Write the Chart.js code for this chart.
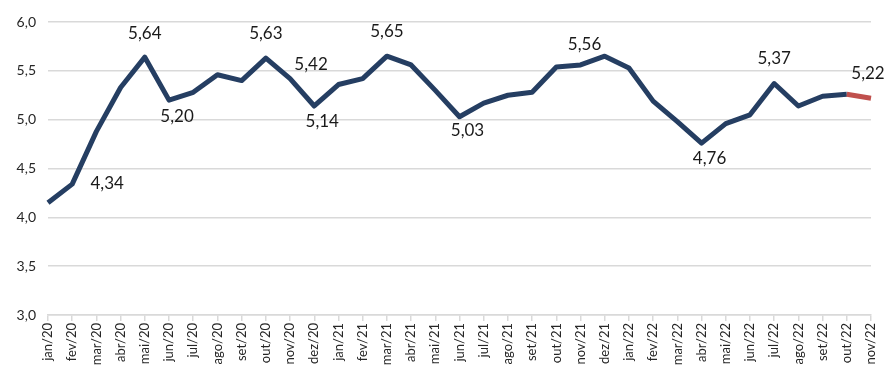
<!DOCTYPE html>
<html>
<head>
<meta charset="utf-8">
<script src="https://cdn.jsdelivr.net/npm/chart.js@4/dist/chart.umd.min.js"></script>
<style>
  html, body { margin: 0; padding: 0; background: #fff; }
  #wrap { width: 893px; height: 387px; position: relative; }
</style>
</head>
<body>
<div id="wrap"><canvas id="chartTaxa"></canvas></div>
<script>
const months = [
  "jan/20", "fev/20", "mar/20", "abr/20", "mai/20", "jun/20", "jul/20", "ago/20", "set/20", "out/20", "nov/20", "dez/20",
  "jan/21", "fev/21", "mar/21", "abr/21", "mai/21", "jun/21", "jul/21", "ago/21", "set/21", "out/21", "nov/21", "dez/21",
  "jan/22", "fev/22", "mar/22", "abr/22", "mai/22", "jun/22", "jul/22", "ago/22", "set/22", "out/22", "nov/22"
];
const values = [
  4.15, 4.34, 4.88, 5.33, 5.64, 5.20, 5.28, 5.46, 5.40, 5.63, 5.42, 5.14,
  5.36, 5.42, 5.65, 5.56, 5.30, 5.03, 5.17, 5.25, 5.28, 5.54, 5.56, 5.65,
  5.53, 5.19, 4.98, 4.76, 4.96, 5.05, 5.37, 5.14, 5.24, 5.26, 5.22
];
const yTicks = [3.0, 3.5, 4.0, 4.5, 5.0, 5.5, 6.0];
// meses com rótulo de valor
const labeled = ["fev/20", "mai/20", "jun/20", "out/20", "nov/20", "dez/20", "mar/21", "jun/21", "nov/21", "abr/22", "jul/22", "nov/22"];

const navy = "#253e62";
const red = "#c0504d";
const grid = "#d9d9d9";
const fontFam = "Lato, 'Open Sans', sans-serif";

// posição de cada rótulo em relação ao ponto
const labelPlace = {
  "fev/20": [35, -1], "mai/20": [0, -24], "jun/20": [8, 16], "out/20": [0, -25],
  "nov/20": [21, -14], "dez/20": [8, 16], "mar/21": [0, -25], "jun/21": [8, 14],
  "nov/21": [4, -20], "abr/22": [8, 15], "jul/22": [0, -25], "nov/22": [-3, -25]
};

const fmt = (v, d) => v.toFixed(d).replace(".", ",");

const valueLabels = {
  id: "valueLabels",
  afterDatasetsDraw(chart) {
    const { ctx } = chart;
    const meta = chart.getDatasetMeta(0);
    ctx.save();
    ctx.font = `17px ${fontFam}`;
    ctx.fillStyle = "#1a1a1a";
    ctx.textAlign = "center";
    ctx.textBaseline = "middle";
    labeled.forEach((m) => {
      const i = months.indexOf(m);
      const pt = meta.data[i];
      const [dx, dy] = labelPlace[m];
      ctx.fillText(fmt(values[i], 2), pt.x + dx, pt.y + dy);
    });
    ctx.restore();
  }
};

const last = values.length - 1;

new Chart(document.getElementById("chartTaxa"), {
  type: "line",
  data: {
    labels: months,
    datasets: [{
      data: values,
      borderColor: navy,
      borderWidth: 5,
      borderJoinStyle: "round",
      pointRadius: 0,
      tension: 0,
      segment: {
        borderColor: (c) => (c.p1DataIndex === last ? red : navy)
      }
    }]
  },
  options: {
    responsive: true,
    maintainAspectRatio: false,
    animation: false,
    layout: { padding: { top: 22, right: 22, left: 0, bottom: 0 } },
    plugins: { legend: { display: false }, tooltip: { enabled: false } },
    scales: {
      x: {
        offset: false,
        grid: { drawOnChartArea: false, drawTicks: true, tickLength: 6, color: grid, lineWidth: 1.5 },
        border: { color: grid, width: 1.5 },
        ticks: {
          autoSkip: false,
          maxRotation: 90,
          minRotation: 90,
          padding: 2,
          color: "#262626",
          font: { family: fontFam, size: 13 }
        },
        afterFit: (s) => { s.height = 72; }
      },
      y: {
        min: 3,
        max: 6,
        afterBuildTicks: (s) => { s.ticks = yTicks.map((v) => ({ value: v })); },
        grid: { color: grid, lineWidth: 1.5, drawTicks: false },
        border: { display: false },
        ticks: {
          padding: 12,
          color: "#262626",
          font: { family: fontFam, size: 14 },
          callback: (v) => fmt(v, 1)
        },
        afterFit: (s) => { s.width = 48; }
      }
    }
  },
  plugins: [valueLabels]
});
</script>
</body>
</html>
